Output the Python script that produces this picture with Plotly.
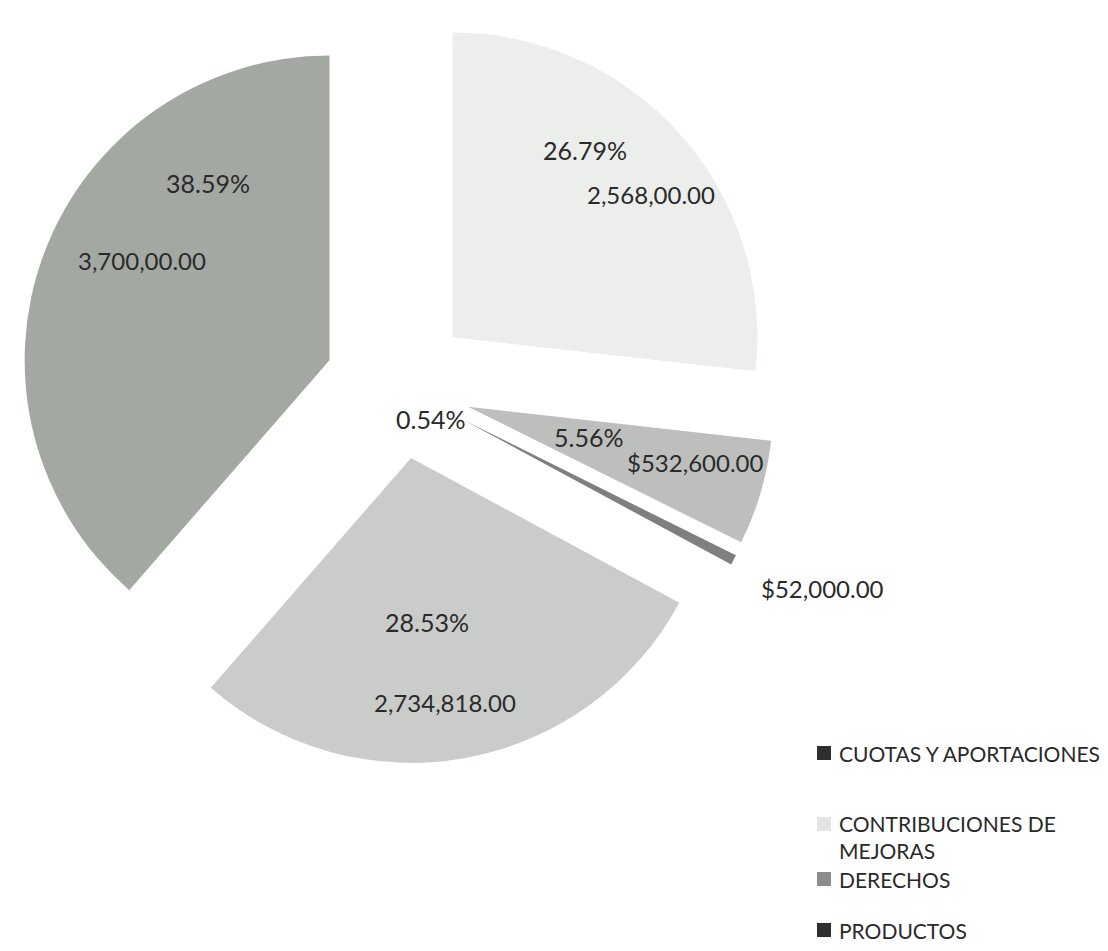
import plotly.graph_objects as go

# ---- data ----
categories = ["CUOTAS Y APORTACIONES", "CONTRIBUCIONES DE MEJORAS", "DERECHOS",
              "PRODUCTOS", "APROVECHAMIENTOS"]
values = [3700000, 2568000, 532600, 52000, 2734818]
value_labels = ["3,700,00.00", "2,568,00.00", "$532,600.00", "$52,000.00", "2,734,818.00"]
legend_labels = ["CUOTAS Y APORTACIONES", "CONTRIBUCIONES DE<br>MEJORAS", "DERECHOS", "PRODUCTOS"]

# ---- style / layout ----
PAGE_OFF = 8                     # default body margin of the html page
W, H = 1108 - 2 * PAGE_OFF, 951 - 2 * PAGE_OFF
slice_colors = ["#a4a8a3", "#eceeec", "#bcbfbc", "#7e807e", "#caccc9"]
legend_colors = ["#2e2e2e", "#e4e4e4", "#8c8c8c", "#2e2e2e"]
text_color = "#2a2a2a"
FONT = "Lato"

total = sum(values)
percent_labels = [f"{v / total * 100:.2f}%" for v in values]
rotation = 360 * (1 - values[0] / total)
if rotation > 180:
    rotation -= 360

# label positions (page pixels from top-left)
pct_pos = [(208, 183), (585, 150), (588, 437), (430, 419), (427, 622)]
val_pos = [(142, 260), (651, 195), (695, 462), (822, 588), (445, 702)]
legend_y = [753, 837, 879, 930]
legend_sq_y = [753, 824, 879, 930]


def px(x):
    return (x - PAGE_OFF) / W


def py(y):
    return 1 - (y - PAGE_OFF) / H


cx, cy = 398, 386
half = cy - PAGE_OFF

fig = go.Figure(go.Pie(
    labels=categories,
    values=values,
    sort=False,
    direction="clockwise",
    rotation=rotation,
    pull=0.24,
    marker=dict(colors=slice_colors, line=dict(width=0)),
    textinfo="none",
    hoverinfo="label+value+percent",
    showlegend=False,
    domain=dict(x=[px(cx - half), px(cx + half)], y=[py(cy + half), py(cy - half)]),
))

ann = []
for t, (x, y) in zip(percent_labels, pct_pos):
    ann.append(dict(x=px(x), y=py(y), xref="paper", yref="paper", text=t, showarrow=False,
                    xanchor="center", yanchor="middle", font=dict(family=FONT, size=25, color=text_color)))
for t, (x, y) in zip(value_labels, val_pos):
    ann.append(dict(x=px(x), y=py(y), xref="paper", yref="paper", text=t, showarrow=False,
                    xanchor="center", yanchor="middle", font=dict(family=FONT, size=24, color=text_color)))

shapes = []
for lab, col, ly, sy in zip(legend_labels, legend_colors, legend_y, legend_sq_y):
    ann.append(dict(x=px(837), y=py(ly), xref="paper", yref="paper", text=lab, showarrow=False,
                    xanchor="left", yanchor="middle", align="left",
                    font=dict(family=FONT, size=21, color=text_color)))
    shapes.append(dict(type="rect", xref="paper", yref="paper",
                       x0=px(817), x1=px(831), y0=py(sy + 7), y1=py(sy - 7),
                       fillcolor=col, line=dict(width=0)))

fig.update_layout(
    width=W, height=H,
    margin=dict(l=0, r=0, t=0, b=0),
    paper_bgcolor="white", plot_bgcolor="white",
    annotations=ann, shapes=shapes,
    font=dict(family=FONT),
)

fig.write_html("out.html")
